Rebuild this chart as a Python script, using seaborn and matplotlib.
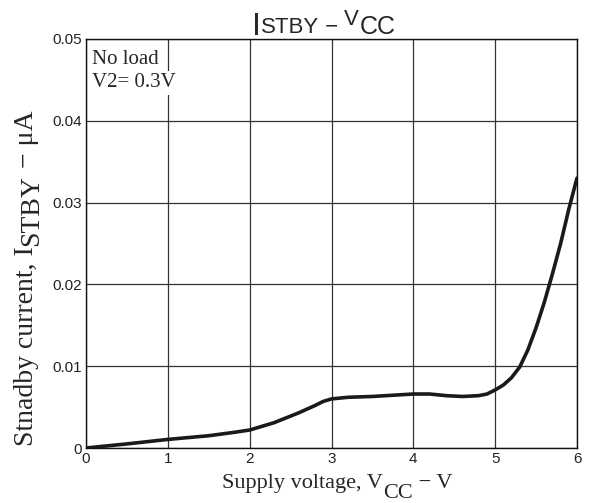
import matplotlib
matplotlib.use('Agg')
import matplotlib.pyplot as plt
import seaborn as sns
import pandas as pd

# values
vcc = [0, 0.5, 1, 1.5, 1.8, 2, 2.1, 2.3, 2.6, 2.8, 2.9, 3, 3.2, 3.5,
       4, 4.2, 4.4, 4.6, 4.8, 4.9, 5, 5.1, 5.2, 5.3, 5.4, 5.5, 5.6,
       5.7, 5.8, 5.9, 6]
istby = [0, 0.0005, 0.00105, 0.0015, 0.0019, 0.0022, 0.0025, 0.0031,
         0.0043, 0.0052, 0.0057, 0.006, 0.0062, 0.0063, 0.0066, 0.0066,
         0.0064, 0.0063, 0.0064, 0.0066, 0.0071, 0.0077, 0.0086, 0.0099,
         0.012, 0.0147, 0.0178, 0.0213, 0.025, 0.0292, 0.033]
x_ticks = [0, 1, 2, 3, 4, 5, 6]
y_ticks = [0, 0.01, 0.02, 0.03, 0.04, 0.05]
y_labels = ['0', '0.01', '0.02', '0.03', '0.04', '0.05']

df = pd.DataFrame({'vcc': vcc, 'istby': istby})

sns.set_style('white')
plt.rcParams['font.family'] = ['Liberation Sans', 'DejaVu Sans']
serif = ['Liberation Serif', 'DejaVu Serif']

W, H = 590, 503
fig = plt.figure(figsize=(W / 100, H / 100), dpi=100)
ax = fig.add_axes([86 / W, 55 / H, 491 / W, 409 / H])

sns.lineplot(data=df, x='vcc', y='istby', ax=ax, color='#1a1a1a',
             linewidth=2.6, zorder=3)

ax.set_xlim(0, 6)
ax.set_ylim(0, 0.05)
ax.set_xticks(x_ticks)
ax.set_yticks(y_ticks)
ax.set_yticklabels(y_labels)
ax.set_xlabel('')
ax.set_ylabel('')
ax.grid(True, color='#333333', linewidth=0.9)
ax.tick_params(length=0, labelsize=11, pad=3, colors='#222222')
for s in ax.spines.values():
    s.set_color('#111111')
    s.set_linewidth(1.0)
    s.set_visible(True)

renderer = fig.canvas.get_renderer()


# write text in pieces so subscripts keep full size, like the scanned sheet
def pieces_h(x, parts, **kw):
    for s, base, size in parts:
        t = fig.text(x / W, 1 - base / H, s, fontsize=size, ha='left',
                     va='baseline', **kw)
        x = t.get_window_extent(renderer).x1


def pieces_v(y, parts, **kw):
    y = H - y
    for s, base, size in parts:
        t = fig.text(base / W, y / H, s, fontsize=size, ha='left',
                     va='baseline', rotation=90, rotation_mode='anchor', **kw)
        y = t.get_window_extent(renderer).y1


# title
pieces_h(252, [('I', 35, 23), ('STBY', 33, 16), (' \u2212 ', 33, 16),
               ('V', 25, 16), ('CC', 34, 18)])

# x label
pieces_h(222, [('Supply voltage, V', 488, 16), ('CC', 498, 16),
               (' \u2212 V', 488, 16)], family=serif)

# y label
pieces_v(446, [('Stnadby current, I', 33, 20), ('STBY', 38, 20),
               (' \u2212 \u03bcA', 33, 20)], family=serif)

# condition note
ax.text(0.073, 0.0469, 'No load', family=serif, fontsize=15,
        va='baseline', ha='left', zorder=4)
ax.text(0.073, 0.0441, 'V2= 0.3V', family=serif, fontsize=15,
        va='baseline', ha='left', zorder=4,
        bbox=dict(facecolor='white', edgecolor='none', pad=2))

fig.savefig('out.png', dpi=100)
